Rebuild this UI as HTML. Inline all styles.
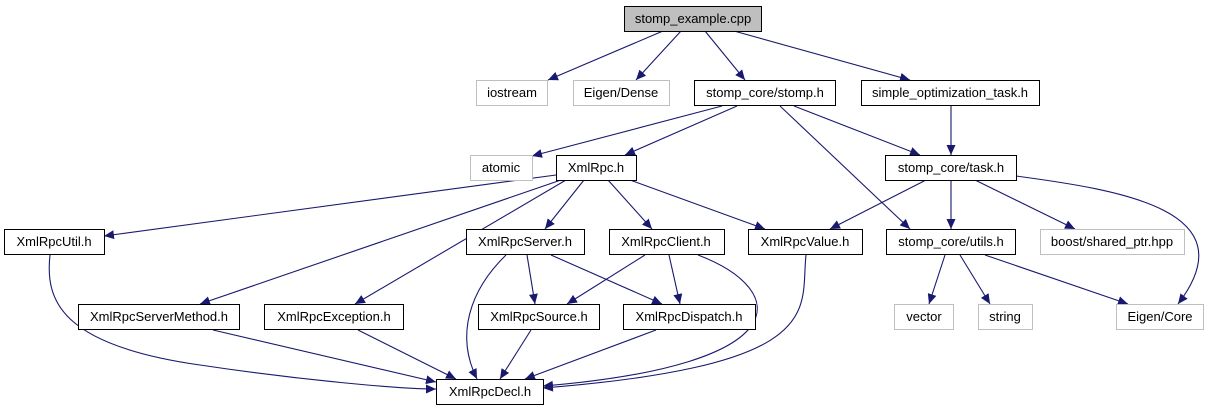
<!DOCTYPE html>
<html><head><meta charset="utf-8"><style>
html,body{margin:0;padding:0;background:#fff;}
svg{display:block;}
text{font-family:"Liberation Sans",sans-serif;font-size:13px;fill:#000;}
</style></head><body>
<svg width="1208" height="411" viewBox="0 0 1208 411" xmlns="http://www.w3.org/2000/svg">
<defs>
<marker id="a" markerUnits="userSpaceOnUse" markerWidth="11" markerHeight="9" refX="10" refY="4.5" orient="auto">
<path d="M0,0 L10,4.5 L0,9 z" fill="#191970"/>
</marker>
</defs>
<g fill="none" stroke="#191970" stroke-width="1.1" marker-end="url(#a)">
<path d="M663,31 L548,80"/>
<path d="M681,31 L636,80"/>
<path d="M705,31 L745,80"/>
<path d="M734,31 L910,80"/>
<path d="M722,106 L532,156"/>
<path d="M737,106 L625,155"/>
<path d="M794,106 L920,155"/>
<path d="M780,106 L910,229"/>
<path d="M951,106 L951,155"/>
<path d="M926,180 L830,229"/>
<path d="M951,180 L951,229"/>
<path d="M975,180 L1075,229"/>
<path d="M1016,176 C1120,190 1250,210 1178,304"/>
<path d="M556,175 L104,236"/>
<path d="M561,180 L200,304"/>
<path d="M566,180 L355,304"/>
<path d="M584,180 L545,229"/>
<path d="M608,180 L652,229"/>
<path d="M630,180 L765,229"/>
<path d="M527,255 L535,304"/>
<path d="M551,255 L662,304"/>
<path d="M506,255 C470,290 455,335 477,379"/>
<path d="M645,255 L567,304"/>
<path d="M669,255 L680,304"/>
<path d="M698,255 C790,290 800,365 543,386"/>
<path d="M806,255 C800,310 830,365 543,388"/>
<path d="M945,255 L929,304"/>
<path d="M960,255 L990,304"/>
<path d="M985,255 L1128,304"/>
<path d="M50,255 C45,300 60,345 200,365 C300,380 400,389 436,389"/>
<path d="M213,330 L436,382"/>
<path d="M358,330 L456,379"/>
<path d="M531,330 L500,379"/>
<path d="M656,330 L525,379"/>
</g>
<g stroke-width="1">
<rect x="624.5" y="6.5" width="137" height="25" fill="#bfbfbf" stroke="#000"/>
<rect x="476.5" y="80.5" width="71" height="25" fill="#fff" stroke="#bfbfbf"/>
<rect x="573.5" y="80.5" width="96" height="25" fill="#fff" stroke="#bfbfbf"/>
<rect x="694.5" y="80.5" width="141" height="25" fill="#fff" stroke="#000"/>
<rect x="861.5" y="80.5" width="178" height="25" fill="#fff" stroke="#000"/>
<rect x="470.5" y="155.5" width="62" height="25" fill="#fff" stroke="#bfbfbf"/>
<rect x="556.5" y="155.5" width="80" height="25" fill="#fff" stroke="#000"/>
<rect x="885.5" y="155.5" width="131" height="25" fill="#fff" stroke="#000"/>
<rect x="4.5" y="229.5" width="100" height="25" fill="#fff" stroke="#000"/>
<rect x="466.5" y="229.5" width="118" height="25" fill="#fff" stroke="#000"/>
<rect x="609.5" y="229.5" width="115" height="25" fill="#fff" stroke="#000"/>
<rect x="748.5" y="229.5" width="114" height="25" fill="#fff" stroke="#000"/>
<rect x="886.5" y="229.5" width="129" height="25" fill="#fff" stroke="#000"/>
<rect x="1040.5" y="229.5" width="144" height="25" fill="#fff" stroke="#bfbfbf"/>
<rect x="78.5" y="304.5" width="161" height="25" fill="#fff" stroke="#000"/>
<rect x="264.5" y="304.5" width="139" height="25" fill="#fff" stroke="#000"/>
<rect x="478.5" y="304.5" width="121" height="25" fill="#fff" stroke="#000"/>
<rect x="623.5" y="304.5" width="132" height="25" fill="#fff" stroke="#000"/>
<rect x="894.5" y="304.5" width="59" height="25" fill="#fff" stroke="#bfbfbf"/>
<rect x="978.5" y="304.5" width="54" height="25" fill="#fff" stroke="#bfbfbf"/>
<rect x="1116.5" y="304.5" width="87" height="25" fill="#fff" stroke="#bfbfbf"/>
<rect x="436.5" y="379.5" width="107" height="25" fill="#fff" stroke="#000"/>
</g>
<g text-anchor="middle">
<text x="693" y="23">stomp_example.cpp</text>
<text x="512" y="97">iostream</text>
<text x="621" y="97">Eigen/Dense</text>
<text x="765" y="97">stomp_core/stomp.h</text>
<text x="950" y="97">simple_optimization_task.h</text>
<text x="501" y="172">atomic</text>
<text x="596" y="172">XmlRpc.h</text>
<text x="951" y="172">stomp_core/task.h</text>
<text x="54" y="246">XmlRpcUtil.h</text>
<text x="525" y="246">XmlRpcServer.h</text>
<text x="666" y="246">XmlRpcClient.h</text>
<text x="805" y="246">XmlRpcValue.h</text>
<text x="951" y="246">stomp_core/utils.h</text>
<text x="1112" y="246">boost/shared_ptr.hpp</text>
<text x="159" y="321">XmlRpcServerMethod.h</text>
<text x="334" y="321">XmlRpcException.h</text>
<text x="539" y="321">XmlRpcSource.h</text>
<text x="689" y="321">XmlRpcDispatch.h</text>
<text x="924" y="321">vector</text>
<text x="1005" y="321">string</text>
<text x="1160" y="321">Eigen/Core</text>
<text x="490" y="396">XmlRpcDecl.h</text>
</g>
</svg>
</body></html>
